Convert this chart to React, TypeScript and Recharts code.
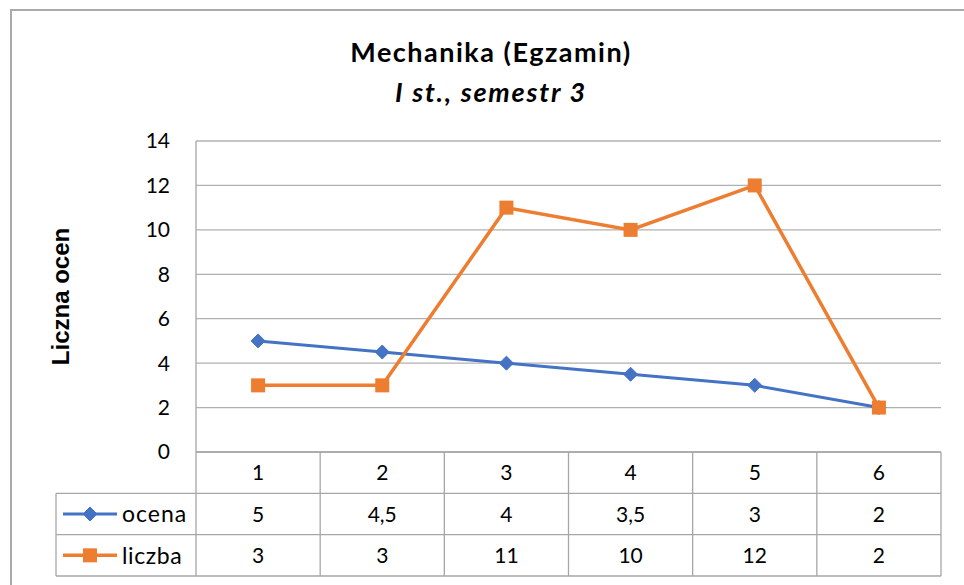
import React from 'react';
import { LineChart, Line, XAxis, YAxis, CartesianGrid } from 'recharts';

const categories = ['1', '2', '3', '4', '5', '6'];
const ocena = [5, 4.5, 4, 3.5, 3, 2];
const liczba = [3, 3, 11, 10, 12, 2];
const yTicks = [0, 2, 4, 6, 8, 10, 12, 14];

const seriesNames = ['ocena', 'liczba'];

const data = categories.map((c, i) => ({ x: i + 1, cat: c, ocena: ocena[i], liczba: liczba[i] }));

const W = 964;
const H = 585;
const M = { top: 141, right: 23, bottom: 9, left: 156 };
const Y_AXIS_W = 40;
const X_AXIS_H = 124;
const PLOT_LEFT = M.left + Y_AXIS_W;
const PLOT_RIGHT = W - M.right;
const COL_W = (PLOT_RIGHT - PLOT_LEFT) / categories.length;
const ROW_H = X_AXIS_H / 3;
const TABLE_LEFT = 56;

const BLUE = '#4472C4';
const ORANGE = '#ED7D31';
const GRID = '#b0b0b0';
const TABLE = '#a6a6a6';
const FONT = 'Lato, "Noto Sans", sans-serif';
const TXT = '#000000';

const fmt = (v: number) => String(v).replace('.', ',');

const Diamond = (props: any) => {
  const { cx, cy } = props;
  if (cx == null || cy == null) return null;
  const r = 7;
  return <path d={`M${cx},${cy - r}L${cx + r},${cy}L${cx},${cy + r}L${cx - r},${cy}Z`} fill={BLUE} stroke={BLUE} strokeWidth={1} />;
};

const Square = (props: any) => {
  const { cx, cy } = props;
  if (cx == null || cy == null) return null;
  const s = 7;
  return <rect x={cx - s} y={cy - s} width={2 * s} height={2 * s} fill={ORANGE} />;
};

const TableTick = (props: any) => {
  const { x, y, payload, index } = props;
  const i = typeof index === 'number' ? index : categories.indexOf(String(payload.value));
  const idx = i >= 0 ? i : Number(payload.value) - 1;
  const top = y;
  const bottom = top + X_AXIS_H;
  const r1 = top + ROW_H;
  const r2 = top + 2 * ROW_H;
  const fs = 21;
  return (
    <g>
      {idx === 0 && (
        <g>
          <line x1={x - COL_W / 2} y1={top} x2={x - COL_W / 2} y2={bottom} stroke={TABLE} strokeWidth={1.3} />
          <line x1={TABLE_LEFT} y1={r1} x2={PLOT_RIGHT} y2={r1} stroke={TABLE} strokeWidth={1.3} />
          <line x1={TABLE_LEFT} y1={r2} x2={PLOT_RIGHT} y2={r2} stroke={TABLE} strokeWidth={1.3} />
          <line x1={TABLE_LEFT} y1={bottom} x2={PLOT_RIGHT} y2={bottom} stroke={TABLE} strokeWidth={1.3} />
          <line x1={TABLE_LEFT} y1={r1} x2={TABLE_LEFT} y2={bottom} stroke={TABLE} strokeWidth={1.3} />
          <line x1={63} y1={r1 + ROW_H / 2} x2={117} y2={r1 + ROW_H / 2} stroke={BLUE} strokeWidth={3} />
          <Diamond cx={90} cy={r1 + ROW_H / 2} />
          <text x={122} y={r1 + ROW_H / 2} dy="0.36em" fontSize={23} letterSpacing={1} fontFamily={FONT} fill={TXT}>{seriesNames[0]}</text>
          <line x1={63} y1={r2 + ROW_H / 2} x2={117} y2={r2 + ROW_H / 2} stroke={ORANGE} strokeWidth={3.5} />
          <Square cx={90} cy={r2 + ROW_H / 2} />
          <text x={122} y={r2 + ROW_H / 2} dy="0.36em" fontSize={23} letterSpacing={0.6} fontFamily={FONT} fill={TXT}>{seriesNames[1]}</text>
        </g>
      )}
      <line x1={x + COL_W / 2} y1={top} x2={x + COL_W / 2} y2={bottom} stroke={TABLE} strokeWidth={1.3} />
      <text x={x} y={top + ROW_H / 2} dy="0.36em" textAnchor="middle" fontSize={fs} fontFamily={FONT} fill={TXT}>{categories[idx]}</text>
      <text x={x} y={r1 + ROW_H / 2} dy="0.36em" textAnchor="middle" fontSize={fs} fontFamily={FONT} fill={TXT}>{fmt(ocena[idx])}</text>
      <text x={x} y={r2 + ROW_H / 2} dy="0.36em" textAnchor="middle" fontSize={fs} fontFamily={FONT} fill={TXT}>{fmt(liczba[idx])}</text>
    </g>
  );
};

export default function App() {
  return (
    <div style={{ position: 'absolute', left: 0, top: 0, width: W, height: H, background: '#fff', overflow: 'hidden' }}>
      <div style={{ position: 'absolute', left: 10, top: 9, width: W + 20, height: H + 20, border: '2px solid #a9a9a9', boxSizing: 'border-box' }} />
      <div style={{ position: 'absolute', left: 0, width: 982, top: 32, textAlign: 'center', fontFamily: FONT, fontWeight: 700, fontSize: 27, lineHeight: '40px', color: '#000' }}>
        <span style={{ letterSpacing: 1.5 }}>Mechanika (Egzamin)</span>
        <br />
        <span style={{ fontStyle: 'italic', letterSpacing: 1.8 }}>I st., semestr 3</span>
      </div>
      <div style={{ position: 'absolute', left: 0, top: 0 }}>
        <LineChart width={W} height={H} data={data} margin={M}>
          <CartesianGrid vertical={false} stroke={GRID} strokeWidth={1.3} />
          <XAxis
            dataKey="x"
            type="number"
            domain={[0.5, 6.5]}
            ticks={[1, 2, 3, 4, 5, 6]}
            height={X_AXIS_H}
            tickSize={0}
            tickMargin={0}
            tickLine={false}
            axisLine={{ stroke: TABLE, strokeWidth: 1.3 }}
            tick={<TableTick />}
            interval={0}
            allowDataOverflow
          />
          <YAxis
            domain={[0, 14]}
            ticks={yTicks}
            width={Y_AXIS_W}
            tickLine={false}
            tickSize={6}
            tickMargin={20}
            axisLine={{ stroke: TABLE, strokeWidth: 1.3 }}
            tick={{ fontSize: 21, fontFamily: FONT, fill: TXT }}
            label={{ value: 'Liczna ocen', angle: -90, position: 'left', offset: 96, style: { fontFamily: '"Liberation Sans", Arial, sans-serif', fontWeight: 700, fontSize: 24, fill: TXT, textAnchor: 'middle' } }}
          />
          <Line dataKey="ocena" stroke={BLUE} strokeWidth={3} dot={<Diamond />} activeDot={false} isAnimationActive={false} />
          <Line dataKey="liczba" stroke={ORANGE} strokeWidth={3.5} dot={<Square />} activeDot={false} isAnimationActive={false} />
        </LineChart>
      </div>
    </div>
  );
}
